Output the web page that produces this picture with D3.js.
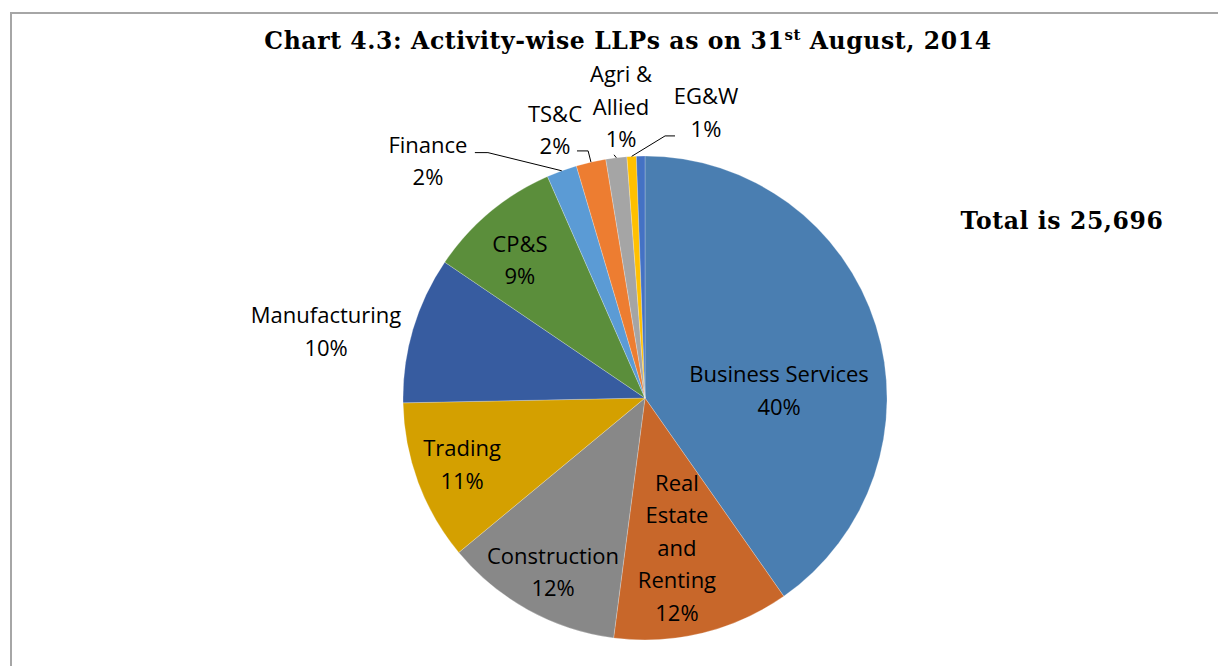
<!DOCTYPE html>
<html>
<head>
<meta charset="utf-8">
<script src="https://cdn.jsdelivr.net/npm/d3@7"></script>
<style>
  html, body { margin: 0; padding: 0; background: #fff; }
  svg { display: block; }
</style>
</head>
<body>
<div id="chart"></div>
<script>
    // Chart data (number of LLPs by activity, total 25,696)
    const activities = [
        'Business Services', 'Real Estate and Renting', 'Construction', 'Trading',
        'Manufacturing', 'CP&S', 'Finance', 'TS&C', 'Agri & Allied', 'EG&W', 'Others'
    ];
    const counts = [10350, 3030, 3060, 2750, 2520, 2290, 520, 510, 360, 160, 146];
    const sliceColors = [
        '#4a7eb1', '#c8672a', '#888888', '#d4a000', '#375ca0', '#5b8e3b',
        '#5b9bd5', '#ed7d31', '#a5a5a5', '#ffc000', '#4472c4'
    ];
    // label lines, as drawn on the chart
    const labelLines = [
        ['Business Services'], ['Real', 'Estate', 'and', 'Renting'], ['Construction'],
        ['Trading'], ['Manufacturing'], ['CP&S'], ['Finance'], ['TS&C'],
        ['Agri &', 'Allied'], ['EG&W'], []
    ];
    const totalLabel = 'Total is 25,696';

    /**
     * Label spots relative to pie centre, in radius units,
     * plus an optional leader line (start + elbow, radius units).
     */
    const labelSpots = [
        { dx: 0.554, dy: -0.03 },
        { dx: 0.132, dy: 0.62 },
        { dx: -0.38, dy: 0.72 },
        { dx: -0.756, dy: 0.277 },
        { dx: -1.318, dy: -0.273 },
        { dx: -0.517, dy: -0.57 },
        { dx: -0.897, dy: -0.979, lead: [[-0.703, -1.014], [-0.649, -1.014]] },
        { dx: -0.372, dy: -1.107, lead: [[-0.281, -1.021], [-0.235, -1.021]] },
        { dx: -0.099, dy: -1.202, lead: [[-0.128, -1.005], [-0.128, -1.005]] },
        { dx: 0.252, dy: -1.178, lead: [[0.124, -1.083], [0.083, -1.083]] },
        null
    ];

    const W = 1218, H = 666;
    const cx = 645, cy = 398, R = 242;
    const lineH = 32.5;

    const svg = d3.select('#chart').append('svg')
        .attr('width', W)
        .attr('height', H);

    // outer frame of the chart area
    svg.append('rect')
        .attr('x', 11).attr('y', 13)
        .attr('width', W + 20).attr('height', H + 20)
        .attr('fill', 'none')
        .attr('stroke', '#a6a6a6')
        .attr('stroke-width', 2);

    // title
    const title = svg.append('text')
        .attr('x', 628).attr('y', 49)
        .attr('text-anchor', 'middle')
        .attr('font-family', '"DejaVu Serif", serif')
        .attr('font-weight', 'bold')
        .attr('font-size', 23.5)
        .attr('letter-spacing', 0.6)
        .attr('fill', '#000');
    title.append('tspan').text('Chart 4.3: Activity-wise LLPs as on 31');
    title.append('tspan').attr('dy', -9).attr('font-size', 15).text('st');
    title.append('tspan').attr('dy', 9).text(' August, 2014');

    svg.append('text')
        .attr('x', 1062).attr('y', 229)
        .attr('text-anchor', 'middle')
        .attr('font-family', '"DejaVu Serif", serif')
        .attr('font-weight', 'bold')
        .attr('font-size', 23.5)
        .attr('letter-spacing', 0.6)
        .text(totalLabel);

    const total = d3.sum(counts);
    const data = activities.map((a, i) => ({
        name: a, value: counts[i], color: sliceColors[i],
        lines: labelLines[i], spot: labelSpots[i]
    }));

    const pie = d3.pie().value(d => d.value).sort(null);
    const arc = d3.arc().innerRadius(0).outerRadius(R);
    const rim = d3.arc().innerRadius(R).outerRadius(R);
    const arcs = pie(data);

    const g = svg.append('g').attr('transform', `translate(${cx},${cy})`);

    g.selectAll('path.slice')
        .data(arcs)
        .join('path')
        .attr('class', 'slice')
        .attr('d', arc)
        .attr('fill', d => d.data.color)
        .attr('stroke', '#ffffff')
        .attr('stroke-opacity', 0.4)
        .attr('stroke-width', 0.6);

    // leader lines
    g.selectAll('path.lead')
        .data(arcs.filter(d => d.data.spot && d.data.spot.lead))
        .join('path')
        .attr('class', 'lead')
        .attr('fill', 'none')
        .attr('stroke', '#000')
        .attr('stroke-width', 1)
        .attr('d', d => {
            const [p0, p1] = d.data.spot.lead;
            const end = rim.centroid(d);
            return d3.line()([[p0[0] * R, p0[1] * R], [p1[0] * R, p1[1] * R], end]);
        });

    // labels
    const pct = d => Math.round(d.value / total * 100) + '%';
    const labels = g.selectAll('text.lbl')
        .data(arcs.filter(d => d.data.spot))
        .join('text')
        .attr('class', 'lbl')
        .attr('text-anchor', 'middle')
        .attr('font-family', '"Open Sans", sans-serif')
        .attr('font-size', 22)
        .attr('fill', '#000');

    labels.each(function (d) {
        const t = d3.select(this);
        const rows = d.data.lines.concat([pct(d.data)]);
        const x = d.data.spot.dx * R;
        const y0 = d.data.spot.dy * R - (rows.length - 1) * lineH / 2;
        rows.forEach((r, i) => {
            t.append('tspan')
                .attr('x', x)
                .attr('y', y0 + i * lineH)
                .attr('dy', '0.35em')
                .text(r);
        });
    });
</script>
</body>
</html>
